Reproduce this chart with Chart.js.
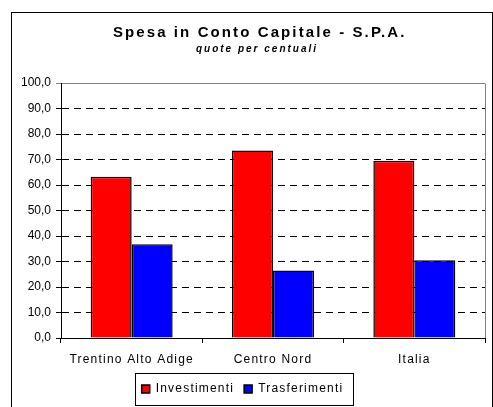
<!DOCTYPE html>
<html>
<head>
<meta charset="utf-8">
<script src="https://cdn.jsdelivr.net/npm/chart.js@4"></script>
<style>
  html, body { margin: 0; padding: 0; background: #fff; }
</style>
</head>
<body>
<canvas id="chart" width="493" height="407"></canvas>
<script>
const titleText = "Spesa in Conto Capitale - S.P.A.";
const subtitleText = "quote per centuali";
const categories = ["Trentino Alto Adige", "Centro Nord", "Italia"];
const investimenti = [63.2, 73.5, 69.5];
const trasferimenti = [36.8, 26.5, 30.5];
const yMin = 0;
const yMax = 100;
const yStep = 10;

const font = '"Liberation Sans", Arial, sans-serif';

// excel-like wide text, title, frame and plot border
const decor = {
  id: "decor",
  beforeLayout(chart) { chart.ctx.letterSpacing = "1.2px"; },
  afterLayout(chart) { chart.ctx.letterSpacing = "0px"; },
  beforeDraw(chart) {
    const ctx = chart.ctx;
    ctx.save();
    ctx.strokeStyle = "#000";
    ctx.lineWidth = 1;
    ctx.strokeRect(11.5, 12.5, 481, 420);
    ctx.restore();
    ctx.letterSpacing = "1.2px";
  },
  afterDatasetsDraw(chart) { chart.ctx.letterSpacing = "0px"; },
  afterDraw(chart) {
    const ctx = chart.ctx;
    const a = chart.chartArea;
    ctx.save();
    ctx.strokeStyle = "#808080";
    ctx.lineWidth = 1;
    ctx.beginPath();
    ctx.moveTo(Math.round(a.right) + 0.5, Math.round(a.top) + 0.5);
    ctx.lineTo(Math.round(a.right) + 0.5, Math.round(a.bottom));
    ctx.stroke();

    const hb = chart.legend.legendHitBoxes;
    const first = hb[0], last = hb[hb.length - 1];
    const cy = first.top + first.height / 2;
    const x0 = Math.round(first.left - 7) + 0.5;
    const x1 = Math.round(last.left + last.width + 10) + 0.5;
    ctx.strokeStyle = "#000";
    ctx.strokeRect(x0, Math.round(cy - 16) + 0.5, x1 - x0, 32);

    ctx.fillStyle = "#000";
    ctx.textAlign = "center";
    ctx.textBaseline = "alphabetic";
    ctx.font = "bold 15px " + font;
    ctx.letterSpacing = "2.1px";
    ctx.fillText(titleText, 259.7, 37);
    ctx.font = "italic bold 10px " + font;
    ctx.letterSpacing = "2px";
    ctx.fillText(subtitleText, 257, 51.5);
    ctx.restore();
    ctx.letterSpacing = "0px";
  }
};

const ctx = document.getElementById("chart").getContext("2d");
new Chart(ctx, {
  type: "bar",
  data: {
    labels: categories,
    datasets: [
      {
        label: "Investimenti",
        data: investimenti,
        backgroundColor: "#FF0000",
        borderColor: "#000",
        borderWidth: 1.5,
      },
      {
        label: "Trasferimenti",
        data: trasferimenti,
        backgroundColor: "#0000FF",
        borderColor: "#000",
        borderWidth: 1.5,
      },
    ],
  },
  options: {
    responsive: false,
    animation: false,
    devicePixelRatio: 1,
    layout: { padding: { top: 83, right: 8, bottom: 2, left: 0 } },
    datasets: { bar: { categoryPercentage: 0.58, barPercentage: 1 } },
    plugins: {
      title: { display: false },
      tooltip: { enabled: false },
      legend: {
        position: "bottom",
        labels: {
          boxWidth: 8,
          boxHeight: 8,
          padding: 10,
          color: "#000",
          font: { family: font, size: 12 },
        },
      },
    },
    scales: {
      x: {
        afterFit(scale) { scale.height = 35; },
        grid: {
          offset: true,
          drawOnChartArea: false,
          tickLength: 5,
          color: "#000",
        },
        border: { display: true, color: "#000", width: 1 },
        ticks: { color: "#000", padding: 9, font: { family: font, size: 12 } },
      },
      y: {
        min: yMin,
        max: yMax,
        afterFit(scale) { scale.width = 61; },
        grid: {
          tickLength: 5,
          color: (c) => (c.tick && c.tick.value === yMax ? "#808080" : "#000"),
        },
        border: {
          display: true,
          color: "#000",
          width: 1,
          dash: (c) => (c.tick && c.tick.value === yMax ? [] : [7, 5]),
        },
        ticks: {
          z: 1,
          stepSize: yStep,
          padding: 5,
          color: "#000",
          font: { family: font, size: 12 },
          callback: (v) => v.toFixed(1).replace(".", ","),
        },
      },
    },
  },
  plugins: [decor],
});
</script>
</body>
</html>
